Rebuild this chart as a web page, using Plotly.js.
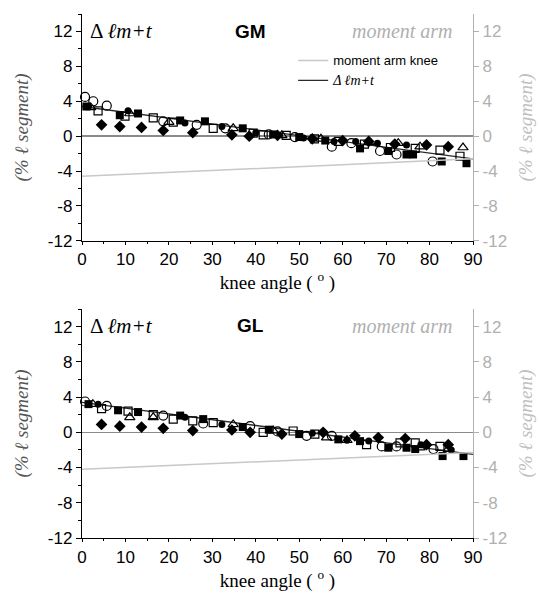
<!DOCTYPE html>
<html><head><meta charset="utf-8">
<script src="https://cdn.plot.ly/plotly-3.0.1.min.js"></script>
<style>html,body{margin:0;padding:0;background:#fff}</style>
</head><body><div id="chart" style="width:540px;height:604px"></div>
<script>
// ---------- data ----------
const xTicks = [0,10,20,30,40,50,60,70,80,90];
const yTicks = [12,8,4,0,-4,-8,-12];

// GM panel
const gmDiamondX = [4.5, 8.7, 13.7, 18.7, 25.5, 34.5, 38.5, 45, 53, 60, 66, 72, 79.3, 84.3];
const gmDiamondY = [1.3, 1.1, 1.0, 0.65, 0.4, 0.15, 0.0, 0.1, -0.3, -0.5, -0.6, -0.9, -1.0, -1.2];
const gmFilledSqX = [1, 8.7, 12.9, 22.6, 28.3, 37, 44, 50, 56, 64, 70.5, 74.7, 76.2, 82.8, 88.5];
const gmFilledSqY = [3.4, 2.4, 2.6, 1.8, 1.7, 0.9, 0.2, -0.1, -0.5, -1.4, -1.7, -2.1, -2.1, -2.9, -3.1];
const gmOpenSqX = [3.7, 9.9, 16.4, 21, 30.2, 39.4, 41.7, 47, 53.5, 59, 65, 71, 76.7, 82.4, 87];
const gmOpenSqY = [2.9, 2.3, 2.1, 1.6, 0.9, 0.35, 0.15, 0.1, -0.3, -0.6, -0.9, -1.3, -1.4, -1.6, -2.3];
const gmOpenCircX = [0.7, 2.6, 5.7, 18.7, 26.4, 33, 43, 49, 57.5, 62, 68.6, 72.4, 80.7];
const gmOpenCircY = [4.5, 4.0, 3.5, 1.7, 1.3, 0.9, 0.2, -0.1, -1.2, -0.8, -1.7, -2.1, -2.9];
const gmTriX = [2, 11, 20, 34.8, 46, 55, 66, 72.8, 77.8, 87.7];
const gmTriY = [3.3, 2.6, 1.6, 0.9, 0.1, -0.3, -0.7, -0.8, -1.2, -1.3];
const gmDotX = [1.5, 10.6, 23.7, 32.2, 40, 51, 58, 63, 68, 74.7];
const gmDotY = [3.4, 2.9, 1.5, 1.1, 0.4, -0.2, -0.6, -0.6, -0.8, -1.0];
const gmRegX = [0, 90];
const gmRegY = [3.4, -2.6];
const gmArmX = [0, 90];
const gmArmY = [-4.6, -2.6];

// GL panel
const glDiamondX = [4.5, 8.7, 13.7, 18.7, 25.5, 34.5, 38.7, 46, 55.5, 62.8, 68.2, 74.4, 79.3, 84.3];
const glDiamondY = [0.9, 0.7, 0.6, 0.45, 0.2, 0.26, 0.0, -0.2, 0.0, -0.4, -0.6, -0.7, -1.4, -1.4];
const glFilledSqX = [1.5, 8.3, 12.9, 22.6, 27.9, 37, 43, 50, 59, 64, 70.5, 74.7, 76.7, 83, 87.8];
const glFilledSqY = [3.2, 2.5, 2.3, 1.9, 1.5, 0.6, 0.3, -0.2, -0.8, -1.0, -1.75, -1.75, -1.9, -2.7, -2.7];
const glOpenSqX = [4.5, 10.6, 16.4, 21, 25.5, 30.2, 41.7, 48.6, 53.6, 65.5, 73.2, 76.7, 82.4];
const glOpenSqY = [2.7, 2.4, 2.0, 1.5, 1.3, 1.1, 0.0, 0.15, -0.2, -1.4, -1.2, -1.2, -1.6];
const glOpenCircX = [0.7, 5.7, 18.7, 27.9, 38.7, 45, 51.7, 57.5, 69, 72.4, 80.9];
const glOpenCircY = [3.5, 3.0, 1.9, 1.0, 0.7, 0.1, -0.4, -0.4, -1.6, -1.6, -1.9];
const glTriX = [2.5, 11, 16.4, 34.8, 44, 56.3, 61, 77.8, 84.3];
const glTriY = [3.2, 1.7, 1.7, 0.9, 0.2, -0.6, -0.9, -1.75, -1.9];
const glDotX = [3.7, 23.7, 32.2, 46, 53, 61, 66, 78, 85];
const glDotY = [3.2, 1.7, 0.9, -0.2, -0.1, -0.9, -1.0, -1.4, -2.0];
const glRegX = [0, 90];
const glRegY = [3.4, -2.5];
const glArmX = [0, 90];
const glArmY = [-4.2, -2.3];

// ---------- traces ----------
function pts(x, y, sym, xa, ya, size){
  const open = sym.indexOf('open') >= 0;
  return {x:x, y:y, xaxis:xa, yaxis:ya, type:'scatter', mode:'markers', showlegend:false,
    marker:{symbol:sym, size:size||8, color:'#000', line:{color:'#000', width: open?1.2:0}}, cliponaxis:false};
}
const serif = 'Liberation Serif, Times New Roman, serif';
const sans = 'Liberation Sans, Arial, sans-serif';
const armName = 'moment arm knee';
const regName = '<span style="font-family:Liberation Serif;font-style:italic;font-size:14px">Δ ℓm+t</span>';

const traces = [
  {x:gmArmX, y:gmArmY, xaxis:'x', yaxis:'y2', type:'scatter', mode:'lines', name:armName, line:{color:'#c8c8c8', width:1.5}, showlegend:true},
  {x:gmRegX, y:gmRegY, xaxis:'x', yaxis:'y', type:'scatter', mode:'lines', name:regName, line:{color:'#2a2a2a', width:1.3}, showlegend:true},
  pts(gmOpenSqX, gmOpenSqY, 'square-open', 'x', 'y', 8),
  pts(gmOpenCircX, gmOpenCircY, 'circle-open', 'x', 'y', 9),
  pts(gmTriX, gmTriY, 'triangle-up-open', 'x', 'y', 9),
  pts(gmFilledSqX, gmFilledSqY, 'square', 'x', 'y', 8),
  pts(gmDotX, gmDotY, 'circle', 'x', 'y', 7),
  pts(gmDiamondX, gmDiamondY, 'diamond', 'x', 'y', 9),

  {x:glArmX, y:glArmY, xaxis:'x2', yaxis:'y4', type:'scatter', mode:'lines', line:{color:'#c8c8c8', width:1.5}, showlegend:false},
  {x:glRegX, y:glRegY, xaxis:'x2', yaxis:'y3', type:'scatter', mode:'lines', line:{color:'#2a2a2a', width:1.3}, showlegend:false},
  pts(glOpenSqX, glOpenSqY, 'square-open', 'x2', 'y3', 8),
  pts(glOpenCircX, glOpenCircY, 'circle-open', 'x2', 'y3', 9),
  pts(glTriX, glTriY, 'triangle-up-open', 'x2', 'y3', 9),
  pts(glFilledSqX, glFilledSqY, 'square', 'x2', 'y3', 8),
  pts(glDotX, glDotY, 'circle', 'x2', 'y3', 7),
  pts(glDiamondX, glDiamondY, 'diamond', 'x2', 'y3', 9)
];

// ---------- layout ----------
function xAxis(anchor){
  return {anchor:anchor, range:[0,90], tickvals:xTicks, ticktext:xTicks.map(String),
    showline:true, linecolor:'#000', linewidth:1.2, ticks:'outside', ticklen:3, tickcolor:'#000',
    minor:{dtick:5, ticks:'outside', ticklen:2, tickcolor:'#000'},
    showgrid:false, zeroline:false, tickfont:{family:sans, size:17, color:'#000'},
    title:{text:'knee angle ( <sup>o</sup> )', font:{family:serif, size:19, color:'#000'}, standoff:6}};
}
function yLeft(domain, anchor){
  return {domain:domain, anchor:anchor, range:[-12,14], tickvals:yTicks, ticktext:yTicks.map(String),
    showline:true, linecolor:'#000', linewidth:1.2, ticks:'outside', ticklen:5, tickcolor:'#000',
    minor:{dtick:2, ticks:'outside', ticklen:3, tickcolor:'#000'},
    showgrid:false, zeroline:true, zerolinecolor:'#8a8a8a', zerolinewidth:1.5,
    tickfont:{family:sans, size:17, color:'#000'},
    title:{text:'<i>(% ℓ segment)</i>', font:{family:serif, size:19, color:'#555'}, standoff:14}};
}
function yRight(over, anchor){
  return {overlaying:over, anchor:anchor, side:'right', range:[-12,14], tickvals:yTicks, ticktext:yTicks.map(String),
    showline:true, linecolor:'#b0b0b0', linewidth:1.2, ticks:'outside', ticklen:5, tickcolor:'#b0b0b0',
    showgrid:false, zeroline:false,
    tickfont:{family:sans, size:17, color:'#b0b0b0'},
    title:{text:'<i>(% ℓ segment)</i>', font:{family:serif, size:19, color:'#c0c0c0'}, standoff:12}};
}
function ann(x, y, text, font, xanchor){
  return {xref:'paper', yref:'paper', x:x, y:y, text:text, showarrow:false, font:font, xanchor:xanchor||'center', yanchor:'middle'};
}

const layout = {
  width:540, height:604,
  margin:{l:82, r:67, t:14, b:66},
  paper_bgcolor:'#fff', plot_bgcolor:'#fff',
  showlegend:true,
  legend:{x:0.54, y:0.94, xanchor:'left', yanchor:'top', bgcolor:'rgba(0,0,0,0)',
    font:{family:sans, size:13, color:'#000'}, tracegroupgap:0, itemwidth:30},
  xaxis: xAxis('y'),
  xaxis2: xAxis('y3'),
  yaxis: yLeft([0.567,1], 'x'),
  yaxis2: yRight('y', 'x'),
  yaxis3: yLeft([0,0.437], 'x2'),
  yaxis4: yRight('y3', 'x2'),
  annotations:[
    ann(0.015, 0.967, 'Δ <i>ℓm+t</i>', {family:serif, size:21, color:'#000'}, 'left'),
    ann(0.43, 0.967, '<b>GM</b>', {family:sans, size:19, color:'#000'}),
    ann(0.82, 0.967, '<i>moment arm</i>', {family:serif, size:20, color:'#b0b0b0'}),
    ann(0.015, 0.405, 'Δ <i>ℓm+t</i>', {family:serif, size:21, color:'#000'}, 'left'),
    ann(0.43, 0.405, '<b>GL</b>', {family:sans, size:19, color:'#000'}),
    ann(0.82, 0.405, '<i>moment arm</i>', {family:serif, size:20, color:'#b0b0b0'})
  ]
};

Plotly.newPlot('chart', traces, layout, {displayModeBar:false, staticPlot:true});
</script>
</body></html>
